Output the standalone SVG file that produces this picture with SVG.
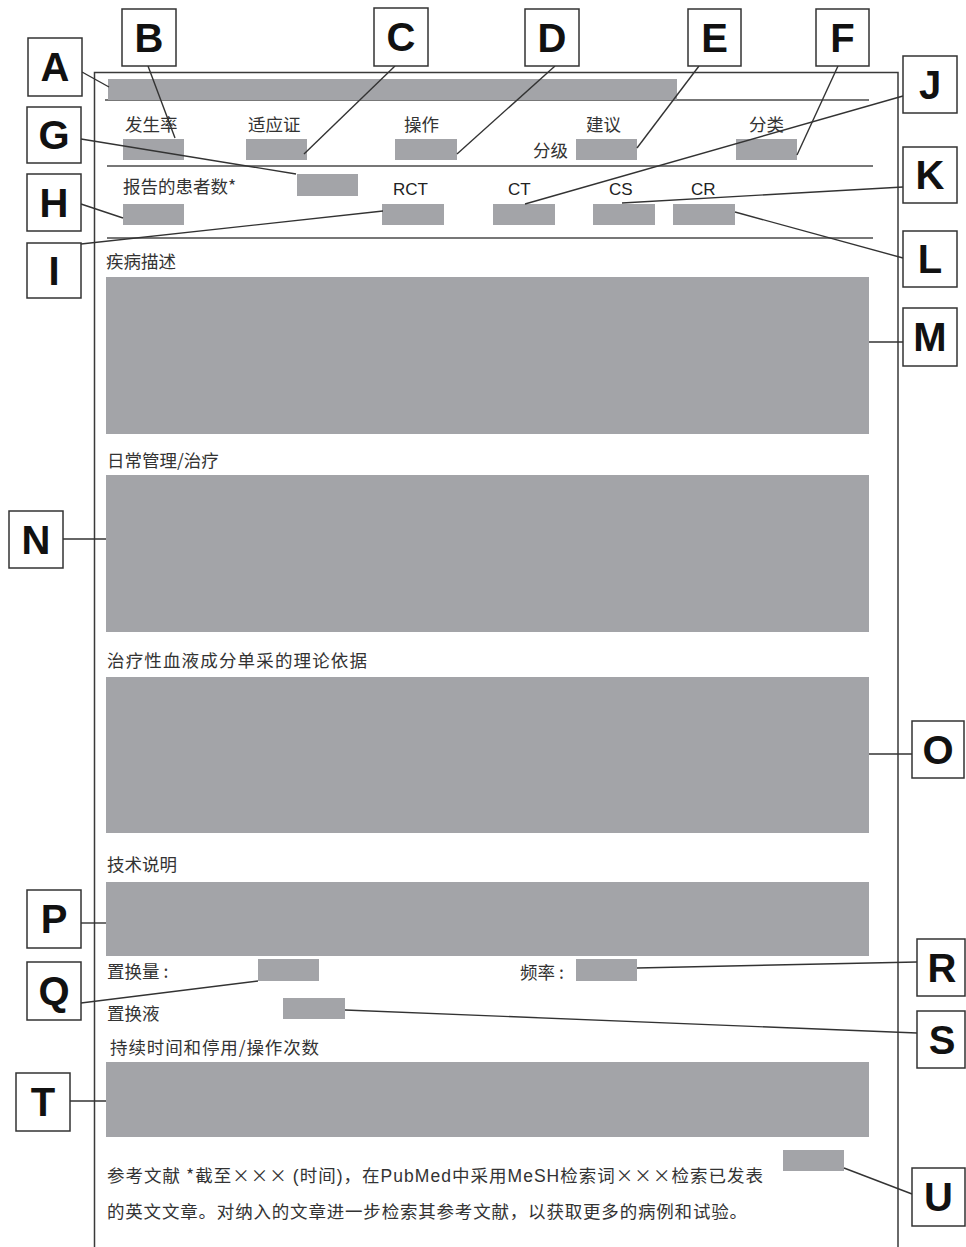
<svg xmlns="http://www.w3.org/2000/svg" width="966" height="1247" viewBox="0 0 966 1247">
<style>
.bg{fill:#ffffff}
.frame{fill:none;stroke:#3a3a3a;stroke-width:1.5}
.rule{stroke:#4a4a4a;stroke-width:1.4}
.fill{fill:#a3a4a8}
.lbl{fill:#ffffff;stroke:#333;stroke-width:1.5}
.ltr{font-family:"Liberation Sans",Arial,sans-serif;font-weight:bold;font-size:40px;fill:#111;text-anchor:middle}
.cn{font-family:"Noto Sans CJK SC","Noto Sans",sans-serif;font-size:17.5px;fill:#333}
.en{font-family:"Liberation Sans",Arial,sans-serif;font-size:17px;fill:#222}
.lat{font-family:"Liberation Sans",Arial,sans-serif}
.conn line{stroke:#333;stroke-width:1.4}
</style>
<rect class="bg" x="0" y="0" width="966" height="1247"/>

<g id="form">
<path class="frame" d="M94.5,1247 V72.5 H898 V1247"/>
<line class="rule" x1="105" y1="100" x2="869" y2="100"/>
<line class="rule" x1="107" y1="166" x2="873" y2="166"/>
<line class="rule" x1="107" y1="238" x2="873" y2="238"/>
<rect class="fill" x="108" y="79" width="569" height="21"/>
<text class="cn" x="125" y="131">发生率</text>
<text class="cn" x="248" y="131">适应证</text>
<text class="cn" x="404" y="131">操作</text>
<text class="cn" x="586" y="131">建议</text>
<text class="cn" x="533" y="157">分级</text>
<text class="cn" x="749" y="131">分类</text>
<rect class="fill" x="123" y="139" width="61" height="21"/>
<rect class="fill" x="246" y="139" width="61" height="21"/>
<rect class="fill" x="395" y="139" width="62" height="21"/>
<rect class="fill" x="576" y="139" width="61" height="21"/>
<rect class="fill" x="736" y="139" width="61" height="21"/>
<text class="cn" x="123" y="193">报告的患者数*</text>
<rect class="fill" x="297" y="174" width="61" height="22"/>
<text class="en" x="393" y="195">RCT</text>
<text class="en" x="508" y="195">CT</text>
<text class="en" x="609" y="195">CS</text>
<text class="en" x="691" y="195">CR</text>
<rect class="fill" x="123" y="204" width="61" height="21"/>
<rect class="fill" x="382" y="204" width="62" height="21"/>
<rect class="fill" x="493" y="204" width="62" height="21"/>
<rect class="fill" x="593" y="204" width="62" height="21"/>
<rect class="fill" x="673" y="204" width="62" height="21"/>
<text class="cn" x="106" y="268">疾病描述</text>
<rect class="fill" x="106" y="277" width="763" height="157"/>
<text class="cn" x="107" y="467">日常管理/治疗</text>
<rect class="fill" x="106" y="475" width="763" height="157"/>
<text class="cn" x="107" y="667" textLength="260" lengthAdjust="spacing">治疗性血液成分单采的理论依据</text>
<rect class="fill" x="106" y="677" width="763" height="156"/>
<text class="cn" x="107" y="871">技术说明</text>
<rect class="fill" x="106" y="882" width="763" height="74"/>
<text class="cn" x="107" y="978">置换量 :</text>
<rect class="fill" x="258" y="959" width="61" height="22"/>
<text class="cn" x="520" y="979">频率 :</text>
<rect class="fill" x="576" y="959" width="61" height="22"/>
<text class="cn" x="107" y="1020">置换液</text>
<rect class="fill" x="283" y="998" width="62" height="21"/>
<text class="cn" x="110" y="1054" textLength="209" lengthAdjust="spacing">持续时间和停用/操作次数</text>
<rect class="fill" x="106" y="1062" width="763" height="75"/>
<rect class="fill" x="783" y="1150" width="61" height="21"/>
<text class="cn" x="107" y="1182" textLength="656" lengthAdjust="spacing">参考文献  *截至××× <tspan class="lat">(</tspan>时间<tspan class="lat">)</tspan>，在<tspan class="lat">PubMed</tspan>中采用<tspan class="lat">MeSH</tspan>检索词×××检索已发表</text>
<text class="cn" x="107" y="1218" textLength="640" lengthAdjust="spacing">的英文文章。对纳入的文章进一步检索其参考文献，以获取更多的病例和试验。</text>
</g>

<g id="connectors" class="conn">
<line x1="82" y1="72" x2="109" y2="87"/>
<line x1="148" y1="66" x2="175" y2="138"/>
<line x1="395" y1="66" x2="304" y2="154"/>
<line x1="555" y1="66" x2="457" y2="154"/>
<line x1="699" y1="66" x2="637" y2="148"/>
<line x1="838" y1="66" x2="797" y2="155"/>
<line x1="81" y1="139" x2="296" y2="174"/>
<line x1="81" y1="204" x2="123" y2="218"/>
<line x1="81" y1="244" x2="383" y2="211"/>
<line x1="903" y1="96" x2="525" y2="204"/>
<line x1="903" y1="187" x2="622" y2="203"/>
<line x1="735" y1="212" x2="903" y2="258"/>
<line x1="869" y1="342" x2="903" y2="342"/>
<line x1="63" y1="539" x2="106" y2="539"/>
<line x1="869" y1="754" x2="912" y2="754"/>
<line x1="81" y1="923" x2="106" y2="923"/>
<line x1="81" y1="1003" x2="258" y2="981"/>
<line x1="637" y1="968" x2="917" y2="962"/>
<line x1="345" y1="1010" x2="917" y2="1033"/>
<line x1="70" y1="1101" x2="106" y2="1101"/>
<line x1="844" y1="1168" x2="912" y2="1194"/>
</g>

<g id="A"><rect class="lbl" x="28" y="38" width="54" height="58"/><text class="ltr" x="55" y="81">A</text></g>
<g id="B"><rect class="lbl" x="122" y="9" width="54" height="57"/><text class="ltr" x="149" y="52">B</text></g>
<g id="C"><rect class="lbl" x="374" y="8" width="54" height="58"/><text class="ltr" x="401" y="51">C</text></g>
<g id="D"><rect class="lbl" x="525" y="9" width="54" height="57"/><text class="ltr" x="552" y="52">D</text></g>
<g id="E"><rect class="lbl" x="688" y="9" width="53" height="57"/><text class="ltr" x="714.5" y="52">E</text></g>
<g id="F"><rect class="lbl" x="816" y="9" width="53" height="57"/><text class="ltr" x="842.5" y="52">F</text></g>
<g id="G"><rect class="lbl" x="27" y="107" width="54" height="56"/><text class="ltr" x="54" y="149">G</text></g>
<g id="H"><rect class="lbl" x="27" y="174" width="54" height="57"/><text class="ltr" x="54" y="217">H</text></g>
<g id="I"><rect class="lbl" x="27" y="243" width="54" height="55"/><text class="ltr" x="54" y="285">I</text></g>
<g id="J"><rect class="lbl" x="903" y="56" width="54" height="57"/><text class="ltr" x="930" y="99">J</text></g>
<g id="K"><rect class="lbl" x="903" y="147" width="54" height="56"/><text class="ltr" x="930" y="189">K</text></g>
<g id="L"><rect class="lbl" x="903" y="231" width="54" height="56"/><text class="ltr" x="930" y="273">L</text></g>
<g id="M"><rect class="lbl" x="903" y="308" width="54" height="58"/><text class="ltr" x="930" y="351">M</text></g>
<g id="N"><rect class="lbl" x="9" y="511" width="54" height="57"/><text class="ltr" x="36" y="554">N</text></g>
<g id="O"><rect class="lbl" x="912" y="721" width="52" height="57"/><text class="ltr" x="938" y="764">O</text></g>
<g id="P"><rect class="lbl" x="27" y="890" width="54" height="58"/><text class="ltr" x="54" y="933">P</text></g>
<g id="Q"><rect class="lbl" x="27" y="962" width="54" height="58"/><text class="ltr" x="54" y="1005">Q</text></g>
<g id="R"><rect class="lbl" x="917" y="939" width="48" height="57"/><text class="ltr" x="942" y="982">R</text></g>
<g id="S"><rect class="lbl" x="917" y="1011" width="48" height="57"/><text class="ltr" x="942" y="1054">S</text></g>
<g id="T"><rect class="lbl" x="16" y="1073" width="54" height="58"/><text class="ltr" x="43" y="1116">T</text></g>
<g id="U"><rect class="lbl" x="912" y="1168" width="53" height="58"/><text class="ltr" x="938.5" y="1211">U</text></g>
</svg>
